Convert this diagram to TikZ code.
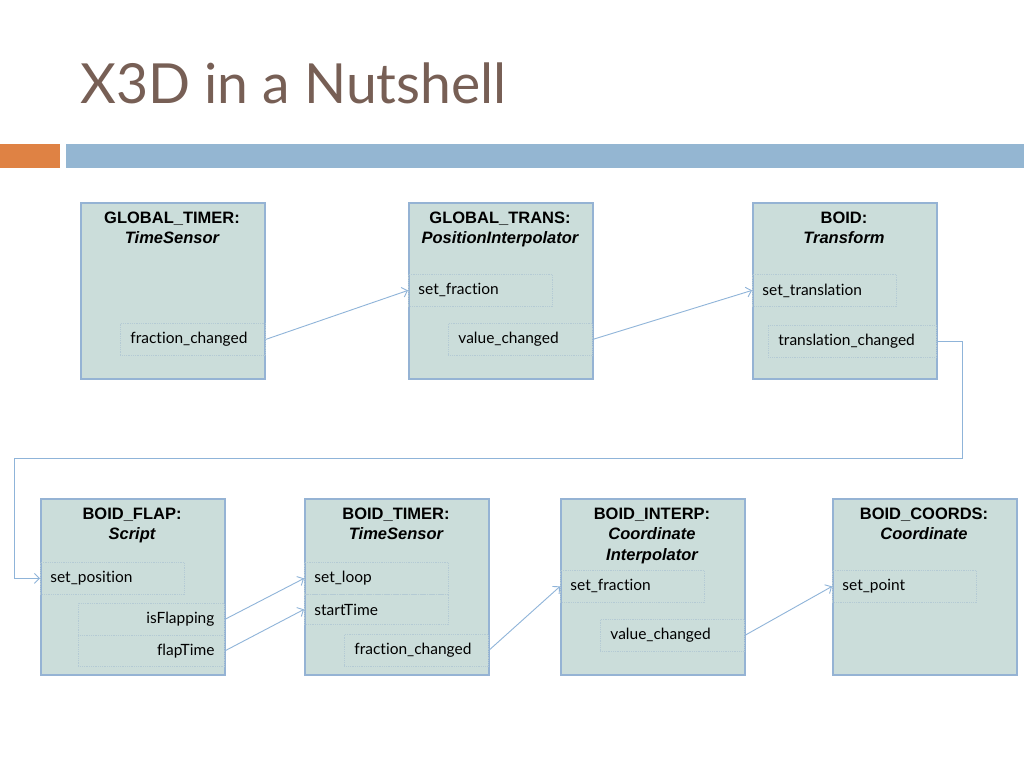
\documentclass[tikz,border=0pt]{standalone}
\usepackage{fontspec}
\setmainfont{Liberation Sans}
\newfontfamily\gill[Ligatures=NoCommon]{Lato}
\usetikzlibrary{arrows.meta}
\definecolor{boxfill}{RGB}{203,221,218}
\definecolor{boxline}{RGB}{149,179,212}
\definecolor{fieldline}{RGB}{180,202,212}
\definecolor{arrowc}{RGB}{143,180,217}
\definecolor{titlec}{RGB}{119,95,85}
\definecolor{orangebar}{RGB}{223,130,68}
\definecolor{bluebar}{RGB}{148,182,210}
\begin{document}
\begin{tikzpicture}[x=1pt,y=-1pt,
  box/.style={draw=boxline, line width=2.2pt, fill=boxfill, minimum width=184pt, minimum height=176pt, anchor=north west, inner sep=0pt},
  head/.style={anchor=north, align=center, inner sep=0pt, font=\fontsize{16.5}{20.5}\selectfont\bfseries},
  field/.style={draw=fieldline, densely dotted, line width=0.8pt, anchor=north west, minimum height=32pt, text width=124pt, inner xsep=10pt, inner ysep=0pt, align=left, font=\gill\fontsize{15.5}{17}\selectfont},
  rfield/.style={field, align=right},
  conn/.style={draw=arrowc, line width=0.9pt, -{Straight Barb[length=5pt,width=10pt]}}
]
\useasboundingbox (0,0) rectangle (1024,768);
\fill[white] (0,0) rectangle (1024,768);
% title
\node[anchor=base west, inner sep=0pt, text=titlec, font=\gill\fontsize{55.3}{61}\selectfont] (title) at (80,103) {X3D in a Nutshell};
\fill[orangebar] (0,144) rectangle (60,168);
\fill[bluebar] (66,144) rectangle (1024,168);

% row 1 boxes
\node[box] (gt) at (80,202) {};
\node[head] (gth) at (172,211.5) {GLOBAL\_TIMER:\\\itshape TimeSensor};
\node[field, minimum width=145pt, text width=125pt] (gt1) at (120,323) {fraction\_changed};

\node[box] (gtr) at (408,202) {};
\node[head] (gtrh) at (500,211.5) {GLOBAL\_TRANS:\\\itshape PositionInterpolator};
\node[field] (gtr1) at (408,274) {set\_fraction};
\node[field] (gtr2) at (448,323) {value\_changed};

\node[box] (bo) at (752,202) {};
\node[head] (boh) at (844,211.5) {BOID:\\\itshape Transform};
\node[field] (bo1) at (752,274) {set\_translation};
\node[field, minimum width=168pt, text width=148pt] (bo2) at (768,325) {translation\_changed};

% row 2 boxes
\node[box] (bf) at (40,498) {};
\node[head] (bfh) at (132,507.5) {BOID\_FLAP:\\\itshape Script};
\node[field] (bf1) at (40,562) {set\_position};
\node[rfield, minimum width=146pt, text width=126pt] (bf2) at (78,603) {isFlapping};
\node[rfield, minimum width=146pt, text width=126pt, minimum height=31pt] (bf3) at (78,635) {flapTime};

\node[box] (bt) at (304,498) {};
\node[head] (bth) at (396,507.5) {BOID\_TIMER:\\\itshape TimeSensor};
\node[field] (bt1) at (304,562) {set\_loop};
\node[field, minimum height=30pt] (bt2) at (304,594) {startTime};
\node[field] (bt3) at (344,634) {fraction\_changed};

\node[box] (bi) at (560,498) {};
\node[head] (bih) at (652,507.5) {BOID\_INTERP:\\\itshape Coordinate\\\itshape Interpolator};
\node[field] (bi1) at (560,570) {set\_fraction};
\node[field] (bi2) at (600,619) {value\_changed};

\node[box] (bc) at (832,498) {};
\node[head] (bch) at (924,507.5) {BOID\_COORDS:\\\itshape Coordinate};
\node[field] (bc1) at (832,570) {set\_point};

% connectors
\coordinate (c1) at (962,458);
\coordinate (c2) at (14,458);
\draw[conn] (gt1.east) -- (gtr1.west);
\draw[conn] (gtr2.east) -- (bo1.west);
\draw[conn] (bo2.east) -| (c1) -- (c2) |- (bf1.west);
\draw[conn] (bf2.east) -- (bt1.west);
\draw[conn] (bf3.east) -- (bt2.west);
\draw[conn] (bt3.east) -- (bi1.west);
\draw[conn] (bi2.east) -- (bc1.west);
\end{tikzpicture}
\end{document}
